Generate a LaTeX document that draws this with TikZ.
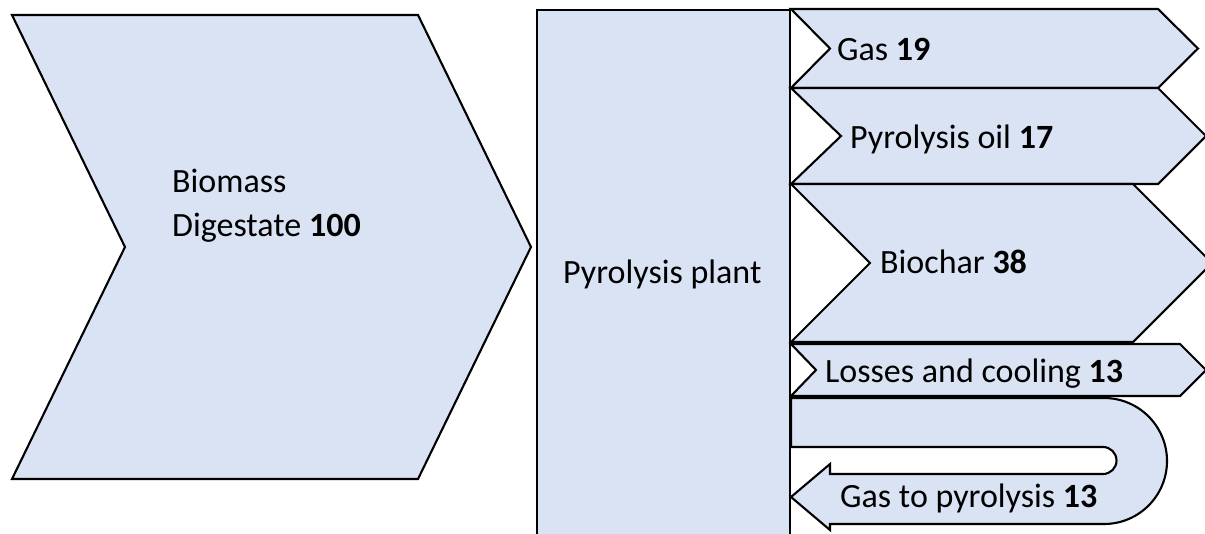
\documentclass[tikz,border=0pt]{standalone}
\usepackage{fontspec}
\setmainfont{Carlito}
\definecolor{flowfill}{HTML}{DAE3F3}
\begin{document}
\begin{tikzpicture}[x=1pt,y=-1pt,
  shapebox/.style={draw=black,fill=flowfill,line width=2.1pt,line join=miter},
  lbl/.style={anchor=base west,inner sep=0pt,font=\fontsize{34}{44}\selectfont,align=left}]
\useasboundingbox (0,0) rectangle (1205,533);
\clip (0,0) rectangle (1205,533);
% input chevron
\draw[shapebox] (12,15) -- (418,15) -- (531,247) -- (418,479) -- (12,479) -- (125,247) -- cycle;
% plant
\draw[shapebox] (537,10) rectangle (790,560);
% outputs
\draw[shapebox] (791,9) -- (1158,9) -- (1198,48.5) -- (1158,88) -- (791,88) -- (830,48.5) -- cycle;
\draw[shapebox] (791,88) -- (1158,88) -- (1206,136) -- (1158,184) -- (791,184) -- (841,136) -- cycle;
\draw[shapebox] (791,184) -- (1133,184) -- (1212,263) -- (1133,342) -- (791,342) -- (870,263) -- cycle;
\draw[shapebox] (791,344) -- (1180,344) -- (1206,370) -- (1180,396) -- (791,396) -- (816,370) -- cycle;
% recycle U-turn
\draw[shapebox] (791,398) -- (1104,398) arc[start angle=-90,end angle=90,radius=63]
  -- (830,524) -- (830,530) -- (791,497) -- (830,464) -- (830,474) -- (1103,474)
  arc[start angle=90,end angle=-90,radius=13.5] -- (791,447) -- cycle;
% labels
\node[lbl] (bio) at (172,236) {Biomass\\Digestate \textbf{100}};
\node[lbl] (plant) at (563,283) {Pyrolysis plant};
\node[lbl] (gas) at (837,60) {Gas \textbf{19}};
\node[lbl] (oil) at (850,148) {Pyrolysis oil \textbf{17}};
\node[lbl] (char) at (880,273) {Biochar \textbf{38}};
\node[lbl] (loss) at (825,382) {Losses and cooling \textbf{13}};
\node[lbl] (back) at (840,507) {Gas to pyrolysis \textbf{13}};
\end{tikzpicture}
\end{document}
